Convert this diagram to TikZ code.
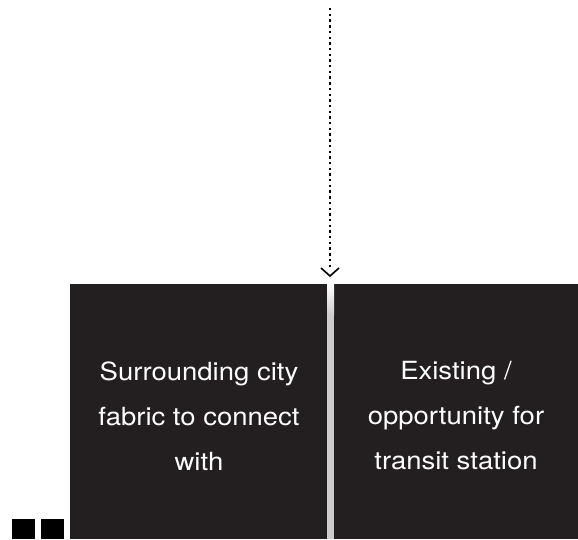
\documentclass[tikz,border=0pt]{standalone}
\usepackage{fontspec}
\setmainfont[FakeStretch=1.1]{TeX Gyre Heros}
\definecolor{boxdark}{HTML}{231F20}
\definecolor{stripe}{HTML}{CCCCCC}
\begin{document}
\begin{tikzpicture}[x=1pt,y=-1pt,
  panel/.style={fill=boxdark, draw=none},
  label/.style={text=white, align=center, font=\fontsize{25}{45}\selectfont, inner sep=0},
  sq/.style={fill=black, draw=none}]
\useasboundingbox (0,0) rectangle (578,539);
\fill[panel] (70,284) rectangle (327,539);
\fill[panel] (334,284) rectangle (578,539);
\shade[top color=white, bottom color=stripe] (327,284) rectangle (334,315);
\fill[stripe] (327,315) rectangle (334,539);
\fill[sq] (12,519) rectangle (35,539);
\fill[sq] (41,519) rectangle (64,539);
\node[label] (left) at (199,416) {Surrounding city\\fabric to connect\\with};
\node[label] (right) at (456,416) {Existing /\\opportunity for\\transit station};
\coordinate (top) at (330,8);
\coordinate (tip) at (330,276);
\draw[line width=2.4pt, dash pattern=on 2.4pt off 3.3pt] (top) -- (330,268);
\draw[line width=1.6pt] (321,268) -- (tip) -- (339,268);
\end{tikzpicture}
\end{document}
